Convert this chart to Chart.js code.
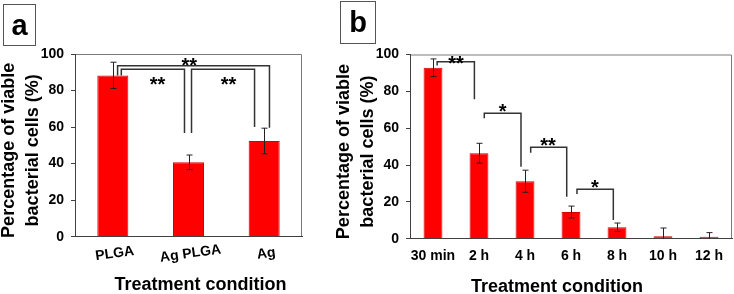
<!DOCTYPE html>
<html>
<head>
<meta charset="utf-8">
<script src="https://cdn.jsdelivr.net/npm/chart.js@4/dist/chart.umd.min.js"></script>
<style>
  body { margin: 0; background: #fff; }
  #wrap { position: relative; width: 734px; height: 294px; overflow: hidden; }
  canvas { position: absolute; top: 0; }
  #chartA { left: 0; }
  #chartB { left: 336px; }
</style>
</head>
<body>
<div id="wrap">
  <canvas id="chartA" width="330" height="294"></canvas>
  <canvas id="chartB" width="398" height="294"></canvas>
</div>
<script>
// Data
const categoriesA = ["PLGA", "Ag PLGA", "Ag"];
const viableA = [88.3, 40.7, 52.4];
const errorA = [7.2, 4.0, 7.0];

const categoriesB = ["30 min", "2 h", "4 h", "6 h", "8 h", "10 h", "12 h"];
const viableB = [92.8, 46.4, 31.2, 14.5, 6.2, 1.3, 1.0];
const errorB = [4.8, 5.4, 6.0, 3.2, 2.3, 4.5, 2.3];

const yTicks = [0, 20, 40, 60, 80, 100];

// significance brackets (x in category units, y in % units)
const signifA = [
  { x1: 0.063, x2: 2.07, top: 93.6, end1: 88.3, end2: 59.6, mark: "**", lx: 1.01, ly: 96.2 },
  { x1: 0.112, x2: 0.947, top: 91.6, end1: 88.3, end2: 56.7, mark: "**", lx: 0.59, ly: 85.8 },
  { x1: 1.04, x2: 1.873, top: 91.6, end1: 56.7, end2: 60.0, mark: "**", lx: 1.53, ly: 85.8 },
];
const signifB = [
  { x1: 0.09, x2: 0.9, top: 96.1, end1: 94.0, end2: 75.7, mark: "**", lx: 0.5, ly: 97.8 },
  { x1: 1.115, x2: 1.913, top: 68.1, end1: 65.4, end2: 39.0, mark: "*", lx: 1.515, ly: 71.5 },
  { x1: 2.124, x2: 2.907, top: 49.6, end1: 46.7, end2: 22.8, mark: "**", lx: 2.5, ly: 53.0 },
  { x1: 3.13, x2: 3.92, top: 26.8, end1: 24.3, end2: 10.2, mark: "*", lx: 3.52, ly: 30.2 },
];

const FONT = "'Liberation Sans', Arial, Helvetica, sans-serif";
Chart.defaults.font.family = FONT;
Chart.defaults.font.weight = "bold";
Chart.defaults.color = "#000";

function catX(scale, v) {
  const i = Math.floor(v);
  const step = scale.getPixelForValue(1) - scale.getPixelForValue(0);
  return scale.getPixelForValue(i) + (v - i) * step;
}

const extras = {
  id: "extras",
  beforeDraw(chart, args, o) {
    const { ctx, chartArea: a } = chart;
    ctx.save();
    ctx.strokeStyle = "#7a7a7a";
    ctx.lineWidth = 1;
    ctx.beginPath();
    ctx.moveTo(a.left, a.top + 0.5);
    ctx.lineTo(a.right - 0.5, a.top + 0.5);
    ctx.lineTo(a.right - 0.5, a.bottom);
    ctx.stroke();
    ctx.restore();
  },
  afterDatasetsDraw(chart, args, o) {
    const { ctx, chartArea: a } = chart;
    const xs = chart.scales.x, ys = chart.scales.y;
    const meta = chart.getDatasetMeta(0);
    const vals = chart.data.datasets[0].data;

    // error bars
    ctx.save();
    ctx.beginPath();
    ctx.rect(a.left, a.top - 10, a.right - a.left, a.bottom - a.top + 10);
    ctx.clip();
    ctx.strokeStyle = "#222";
    ctx.lineWidth = 1;
    meta.data.forEach((bar, i) => {
      const x = Math.round(bar.x) + 0.5;
      const hi = ys.getPixelForValue(vals[i] + o.errors[i]);
      const lo = ys.getPixelForValue(vals[i] - o.errors[i]);
      ctx.beginPath();
      ctx.moveTo(x, hi); ctx.lineTo(x, lo);
      ctx.moveTo(x - 3, hi); ctx.lineTo(x + 3, hi);
      ctx.moveTo(x - 3, lo); ctx.lineTo(x + 3, lo);
      ctx.stroke();
    });
    ctx.restore();

    // significance brackets
    ctx.save();
    ctx.strokeStyle = "#333";
    ctx.lineWidth = 1.5;
    ctx.fillStyle = "#000";
    ctx.font = "bold 20px " + FONT;
    ctx.textAlign = "center";
    ctx.textBaseline = "alphabetic";
    o.brackets.forEach(b => {
      const x1 = catX(xs, b.x1), x2 = catX(xs, b.x2);
      const yt = ys.getPixelForValue(b.top);
      ctx.beginPath();
      ctx.moveTo(x1, ys.getPixelForValue(b.end1));
      ctx.lineTo(x1, yt);
      ctx.lineTo(x2, yt);
      ctx.lineTo(x2, ys.getPixelForValue(b.end2));
      ctx.stroke();
      ctx.fillText(b.mark, catX(xs, b.lx), ys.getPixelForValue(b.ly) + 11);
    });
    ctx.restore();
  },
  afterDraw(chart, args, o) {
    const { ctx, chartArea: a } = chart;
    const xs = chart.scales.x;
    ctx.save();
    ctx.fillStyle = "#000";

    // y title (two lines)
    ctx.font = "bold 18px " + FONT;
    ctx.textAlign = "center";
    ctx.textBaseline = "middle";
    ctx.translate(a.left - 65.5, (a.top + a.bottom) / 2 + 5);
    ctx.rotate(-Math.PI / 2);
    ctx.fillText("Percentage of viable", 0, 0);
    ctx.fillText("bacterial cells (%)", 0, 23.5);
    ctx.setTransform(1, 0, 0, 1, 0, 0);

    // x title
    ctx.font = "bold 18px " + FONT;
    ctx.fillText("Treatment condition", (a.left + a.right) / 2 + o.xTitleShift, o.xTitleY);

    // rotated category labels (panel a only)
    if (o.tiltLabels) {
      ctx.font = "bold 14px " + FONT;
      chart.data.labels.forEach((lab, i) => {
        ctx.save();
        ctx.translate(xs.getPixelForValue(i) + 2, a.bottom + 17);
        ctx.rotate(-8 * Math.PI / 180);
        ctx.fillText(lab, 0, 0);
        ctx.restore();
      });
    }

    // panel letter box
    const p = o.panel;
    ctx.strokeStyle = "#555";
    ctx.lineWidth = 1;
    ctx.strokeRect(p.x + 0.5, p.y + 0.5, p.w, p.h);
    ctx.font = "bold 29px " + FONT;
    ctx.textBaseline = "alphabetic";
    ctx.fillText(p.text, p.x + p.w / 2 + 0.5, p.y + p.h / 2 + 10);
    ctx.restore();
  }
};

function makeChart(id, labels, values, errors, brackets, cfg) {
  return new Chart(document.getElementById(id), {
    type: "bar",
    data: {
      labels: labels,
      datasets: [{
        data: values,
        backgroundColor: "#ff0000",
        borderColor: "#d40000",
        borderWidth: 1,
        barPercentage: 0.41,
        categoryPercentage: 1,
      }],
    },
    options: {
      responsive: false,
      animation: false,
      devicePixelRatio: 1,
      layout: { padding: { left: 0, top: cfg.top, right: cfg.right, bottom: 0 } },
      scales: {
        x: {
          grid: { display: true, drawOnChartArea: false, drawTicks: false, color: "#404040" },
          border: { color: "#404040", width: 1 },
          ticks: {
            display: !cfg.tilt, autoSkip: false, font: { size: 14, weight: "bold" },
            padding: 9, color: "#000", maxRotation: 0, minRotation: 0,
          },
          afterFit: s => { s.height = 294 - cfg.bottom; },
        },
        y: {
          min: 0,
          max: 100,
          afterBuildTicks: s => { s.ticks = yTicks.map(v => ({ value: v })); },
          grid: { drawOnChartArea: false, tickLength: 4, color: "#404040" },
          border: { color: "#404040", width: 1 },
          ticks: { font: { size: 14, weight: "bold" }, padding: 7, color: "#000" },
          afterFit: s => { s.width = cfg.left; },
        },
      },
      plugins: {
        legend: { display: false },
        tooltip: { enabled: false },
        extras: {
          errors: errors,
          brackets: brackets,
          tiltLabels: cfg.tilt,
          xTitleShift: cfg.xShift,
          xTitleY: cfg.xTitleY,
          panel: cfg.panel,
        },
      },
    },
    plugins: [extras],
  });
}

makeChart("chartA", categoriesA, viableA, errorA, signifA, {
  left: 75, top: 54, right: 28, bottom: 236.7, tilt: true, xShift: 12, xTitleY: 285,
  panel: { x: 3, y: 4, w: 32, h: 41, text: "a" },
});

makeChart("chartB", categoriesB, viableB, errorB, signifB, {
  left: 74, top: 54.5, right: 2, bottom: 238.7, tilt: false, xShift: -14, xTitleY: 287,
  panel: { x: 4, y: 1, w: 35, h: 42, text: "b" },
});
</script>
</body>
</html>
